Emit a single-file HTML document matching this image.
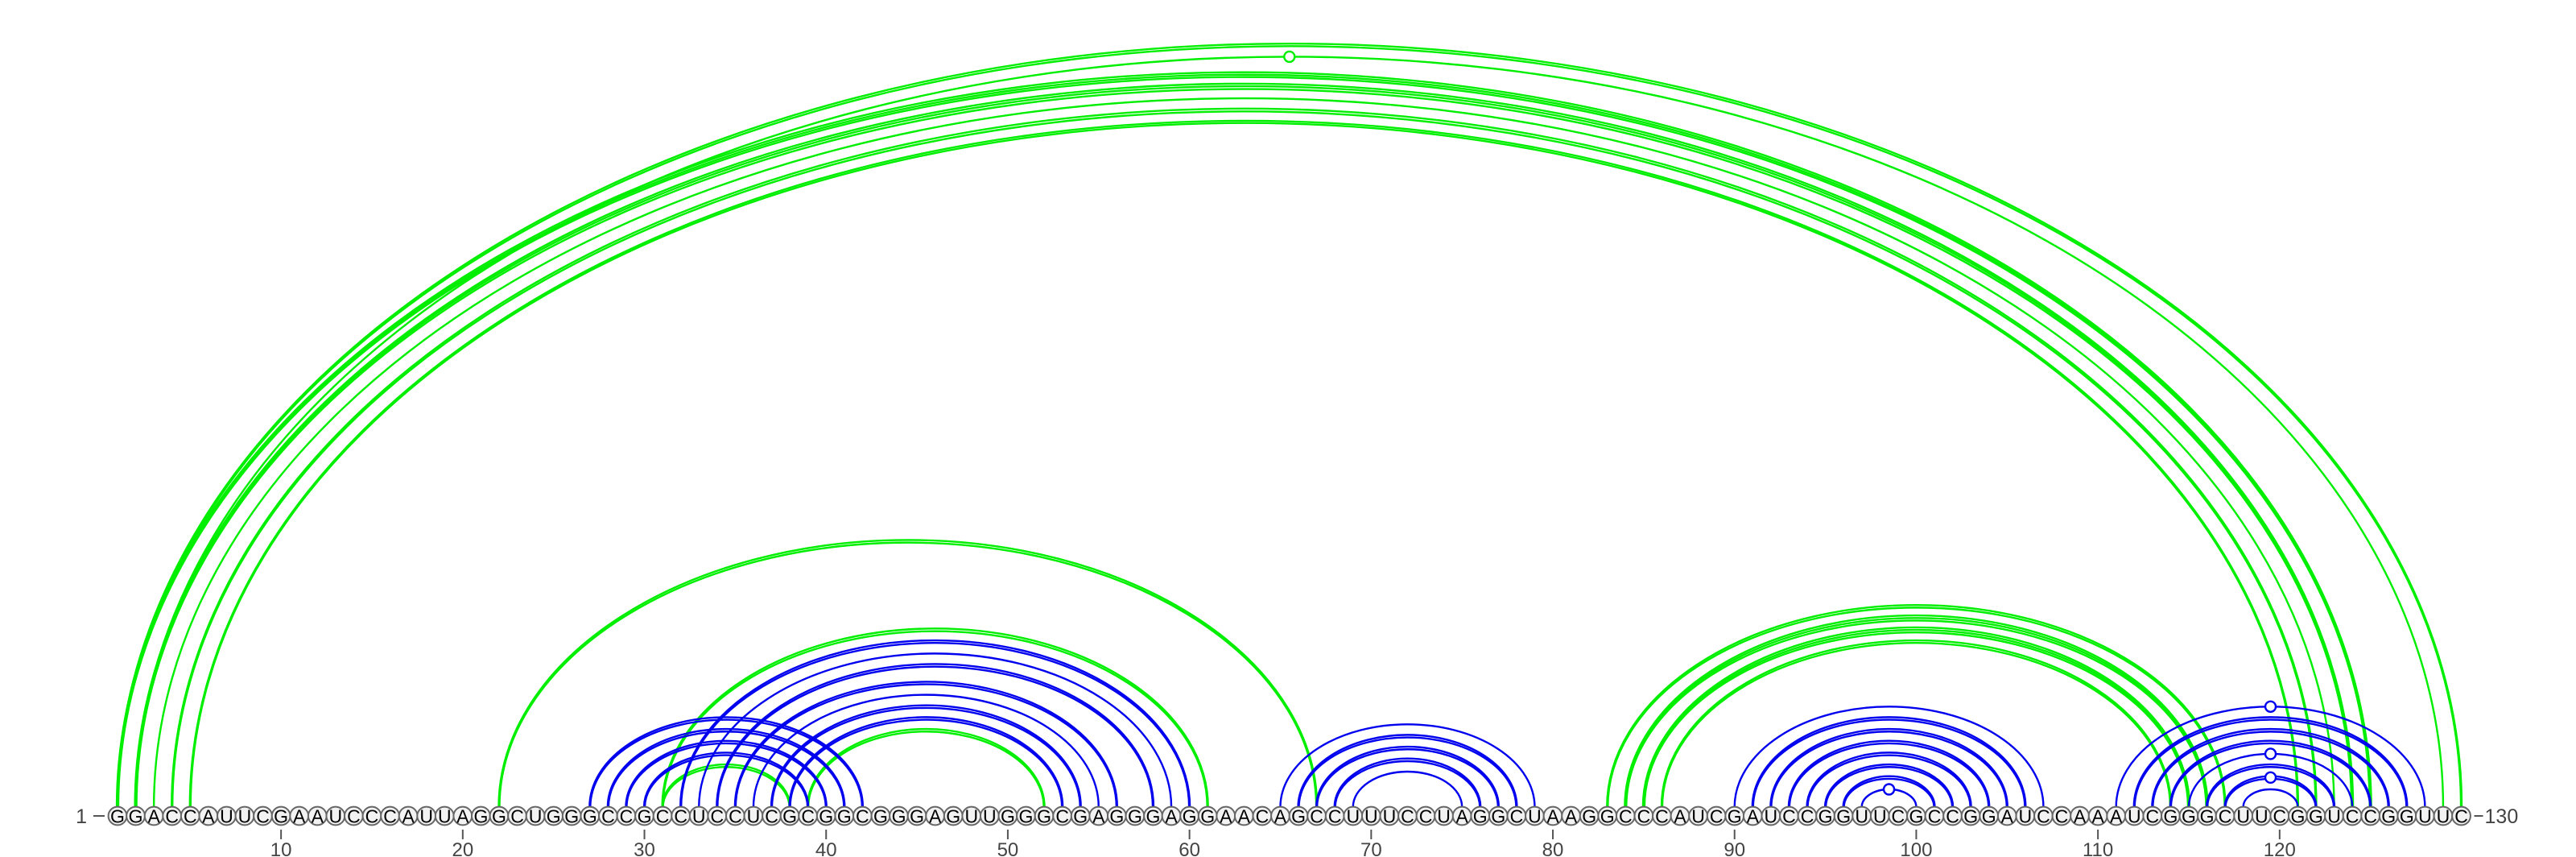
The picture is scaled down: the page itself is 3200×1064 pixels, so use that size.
<!DOCTYPE html>
<html><head><meta charset="utf-8">
<style>
html,body{margin:0;padding:0;background:#fff;}
svg{display:block;}
text{font-family:"Liberation Sans",sans-serif;}
</style></head>
<body>
<svg id="chart" width="3200" height="1064" viewBox="0 0 3200 1064" xmlns="http://www.w3.org/2000/svg">
<g id="arcs"></g>
<g id="nts"></g>
<g id="ticks"></g>
</svg>
<script>
const sequence = "GGACCAUUCGAAUCCCAUUAGGCUGGGCCGCCUCCUCGCGGCGGGAGUUGGGCGAGGGAGGAACAGCCUUUCCUAGGCUAAGGCCCAUCGAUCCGGUUCGCCGGAUCCAAAUCGGGCUUCGGUCCGGUUC";
const pairI =   [1,  2,  1,  2,  3,  4,  5,  22, 31, 31, 39, 83, 84, 85, 86, 27, 28, 29, 30, 32, 33, 34, 35, 36, 37, 38, 65, 66, 67, 68, 69, 90, 91, 92, 93, 94, 95, 96, 97, 111,112,113,114,115,116,117,118];
const pairJ =   [130,129,125,124,123,122,121,67, 61, 38, 52, 117,116,115,114,42, 41, 40, 39, 60, 59, 58, 56, 55, 54, 53, 79, 78, 77, 76, 75, 107,106,105,104,103,102,101,100,128,127,126,125,124,123,122,121];
const pairGreen=[1,  1,  1,  1,  1,  1,  1,  1,  1,  1,  1,  1,  1,  1,  1,  0,  0,  0,  0,  0,  0,  0,  0,  0,  0,  0,  0,  0,  0,  0,  0,  0,  0,  0,  0,  0,  0,  0,  0,  0,  0,  0,  0,  0,  0,  0,  0];
const pairLines=[2,  1,  3,  3,  1,  2,  2,  2,  2,  2,  2,  2,  3,  3,  2,  2,  2,  2,  2,  2,  1,  2,  2,  1,  2,  2,  1,  2,  2,  2,  1,  1,  2,  2,  2,  2,  2,  2,  1,  1,  2,  2,  2,  1,  2,  2,  1];
const pairMarker=[0, 1,  0,  0,  0,  0,  0,  0,  0,  0,  0,  0,  0,  0,  0,  0,  0,  0,  0,  0,  0,  0,  0,  0,  0,  0,  0,  0,  0,  0,  0,  0,  0,  0,  0,  0,  0,  0,  1,  1,  0,  0,  0,  1,  0,  1,  0];
const tickLabels = [10,20,30,40,50,60,70,80,90,100,110,120];

const NS="http://www.w3.org/2000/svg";
const X0=146, DX=22.57, YC=1013, YA=1002, RATIO=0.65;
function xPos(i){return X0+(i-1)*DX;}
function mk(tag,attrs,parent){const e=document.createElementNS(NS,tag);for(const k in attrs)e.setAttribute(k,attrs[k]);parent.appendChild(e);return e;}

const arcs=document.getElementById('arcs');
for(let k=0;k<pairI.length;k++){
  const x1=xPos(pairI[k]), x2=xPos(pairJ[k]);
  const rx=(x2-x1)/2, ry=rx*RATIO;
  const col=pairGreen[k]?'#00ee00':'#0000ee';
  const n=pairLines[k];
  const g=mk('g',{},arcs);
  
  
  for(let m=0;m<n;m++){
    const off=(m-(n-1)/2)*3.2;
    const rr=ry+off, rxx=rx+off*0.3;
    mk('path',{d:`M${x1+rx-rxx} ${YA} A ${rxx} ${rr} 0 0 1 ${x1+rx+rxx} ${YA}`,fill:'none',stroke:col,'stroke-width':2.4},g);
  }
  if(pairMarker[k]){
    const c=mk('circle',{cx:x1+rx,cy:YA-ry,r:6.5,fill:'#fff',stroke:col,'stroke-width':2.4},g);
    
    
  }
}

const nts=document.getElementById('nts');
for(let i=1;i<=sequence.length;i++){
  const g=mk('g',{},nts);
  
  
  mk('circle',{cx:xPos(i),cy:YC,r:11.4,fill:'#f2f2f2',stroke:'#666','stroke-width':2},g);
  const t=mk('text',{x:xPos(i),y:YC+8.5,'text-anchor':'middle','font-size':23,fill:'#000'},g);
  t.textContent=sequence[i-1];
}

const ticks=document.getElementById('ticks');
for(const v of tickLabels){
  const l=mk('line',{x1:xPos(v),x2:xPos(v),y1:1030,y2:1042,stroke:'#555','stroke-width':2},ticks);
  
  
  const t=mk('text',{x:xPos(v),y:1063,'text-anchor':'middle','font-size':24,fill:'#444'},ticks);
  
  
  t.textContent=v;
}
const s=mk('text',{x:108,y:YC+9,'text-anchor':'end','font-size':25,fill:'#444'},ticks);


s.textContent='1';
const sl=mk('line',{x1:116,x2:130,y1:YC,y2:YC,stroke:'#555','stroke-width':2},ticks);


const el=mk('line',{x1:xPos(130)+16,x2:xPos(130)+27,y1:YC,y2:YC,stroke:'#555','stroke-width':2},ticks);


const e=mk('text',{x:xPos(130)+29,y:YC+9,'font-size':25,fill:'#444'},ticks);


e.textContent='130';
</script>
</body></html>
